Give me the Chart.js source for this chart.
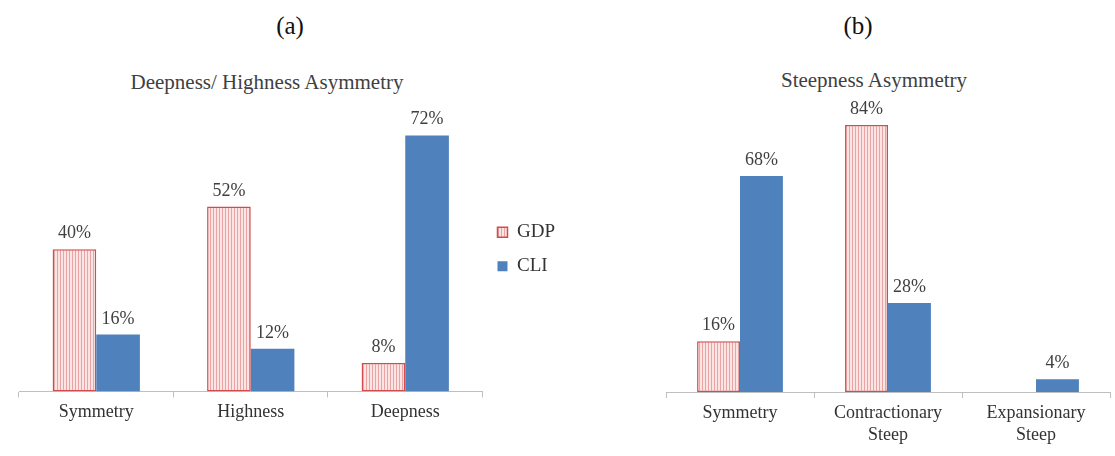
<!DOCTYPE html>
<html lang="en">
<head>
    <meta charset="UTF-8">
    <script src="https://cdn.jsdelivr.net/npm/chart.js"></script>
    <title>Asymmetry charts</title>
    <style>
        body { margin: 0; background: #fff; font-family: "Liberation Serif", "Times New Roman", serif; }
        #page { position: relative; width: 1115px; height: 456px; overflow: hidden; }
        .panel-tag { position: absolute; top: 12px; font-size: 25px; color: #111; transform: translateX(-50%); }
        .chart-title { position: absolute; font-size: 21px; color: #404040; transform: translate(-50%, -50%); white-space: nowrap; }
        canvas { position: absolute; top: 0; }
    </style>
</head>
<body>
<div id="page">
    <div class="panel-tag" style="left:290px">(a)</div>
    <div class="panel-tag" style="left:858px">(b)</div>
    <div class="chart-title" style="left:267px; top:82px">Deepness/ Highness Asymmetry</div>
    <div class="chart-title" style="left:874px; top:80px">Steepness Asymmetry</div>
    <canvas id="chartA" width="575" height="456" style="left:0px"></canvas>
    <canvas id="chartB" width="560" height="456" style="left:555px"></canvas>
</div>

<script>
    // panel (a)
    var groupsA = ['Symmetry', 'Highness', 'Deepness'];
    var gdpA = [40, 52, 8];
    var cliA = [16, 12, 72];

    // panel (b)
    var groupsB = ['Symmetry', ['Contractionary', 'Steep'], ['Expansionary', 'Steep']];
    var gdpB = [16, 84, 0];
    var cliB = [68, 28, 4];

    var serif = '"Liberation Serif", "Times New Roman", serif';

    // vertical pink stripes for the GDP bars
    function stripePattern() {
        var c = document.createElement('canvas');
        c.width = 3;
        c.height = 10;
        var g = c.getContext('2d');
        g.fillStyle = '#fbe4e4';
        g.fillRect(0, 0, 3, 10);
        g.fillStyle = '#e9a3a3';
        g.fillRect(0, 0, 1, 10);
        return g.createPattern(c, 'repeat');
    }

    var valueLabels = {
        id: 'valueLabels',
        afterDatasetsDraw: function(chart) {
            var ctx = chart.ctx;
            ctx.save();
            ctx.font = '18px ' + serif;
            ctx.fillStyle = '#404040';
            ctx.textAlign = 'center';
            ctx.textBaseline = 'alphabetic';
            chart.data.datasets.forEach(function(ds, i) {
                chart.getDatasetMeta(i).data.forEach(function(bar, j) {
                    if (!ds.data[j]) return;
                    ctx.fillText(ds.data[j] + '%', bar.x, bar.y - 11);
                });
            });
            ctx.restore();
        }
    };

    function makeChart(id, labels, gdp, cli, opts) {
        var ctx = document.getElementById(id).getContext('2d');
        return new Chart(ctx, {
            type: 'bar',
            data: {
                labels: labels,
                datasets: [{
                    label: 'GDP',
                    data: gdp,
                    backgroundColor: stripePattern(),
                    borderColor: '#d14c4c',
                    borderWidth: 1.5,
                    borderSkipped: false
                }, {
                    label: 'CLI',
                    data: cli,
                    backgroundColor: '#4f81bd',
                    borderWidth: 0
                }]
            },
            options: {
                responsive: false,
                animation: false,
                layout: { padding: opts.padding },
                categoryPercentage: opts.catPct,
                barPercentage: 1.0,
                plugins: {
                    title: { display: false },
                    tooltip: { enabled: false },
                    legend: {
                        display: opts.legend,
                        position: 'right',
                        fullSize: false,
                        labels: {
                            boxWidth: 10,
                            boxHeight: 10,
                            padding: 15,
                            color: '#333',
                            font: { family: serif, size: 19 }
                        }
                    }
                },
                scales: {
                    x: {
                        grid: {
                            offset: true,
                            drawOnChartArea: false,
                            tickLength: 6,
                            color: '#bfbfbf'
                        },
                        border: { color: '#bfbfbf', width: 1 },
                        ticks: {
                            color: '#333',
                            padding: 4,
                            font: { family: serif, size: 18, lineHeight: 1.25 }
                        }
                    },
                    y: {
                        display: false,
                        min: 0,
                        max: opts.yMax
                    }
                }
            },
            plugins: [valueLabels]
        });
    }

    makeChart('chartA', groupsA, gdpA, cliA, {
        padding: { left: 19, right: 10, top: 107, bottom: 28 },
        catPct: 0.565,
        legend: true,
        yMax: 80
    });

    makeChart('chartB', groupsB, gdpB, cliB, {
        padding: { left: 111, right: 5, top: 106, bottom: 5 },
        catPct: 0.58,
        legend: false,
        yMax: 90
    });
</script>
</body>
</html>
